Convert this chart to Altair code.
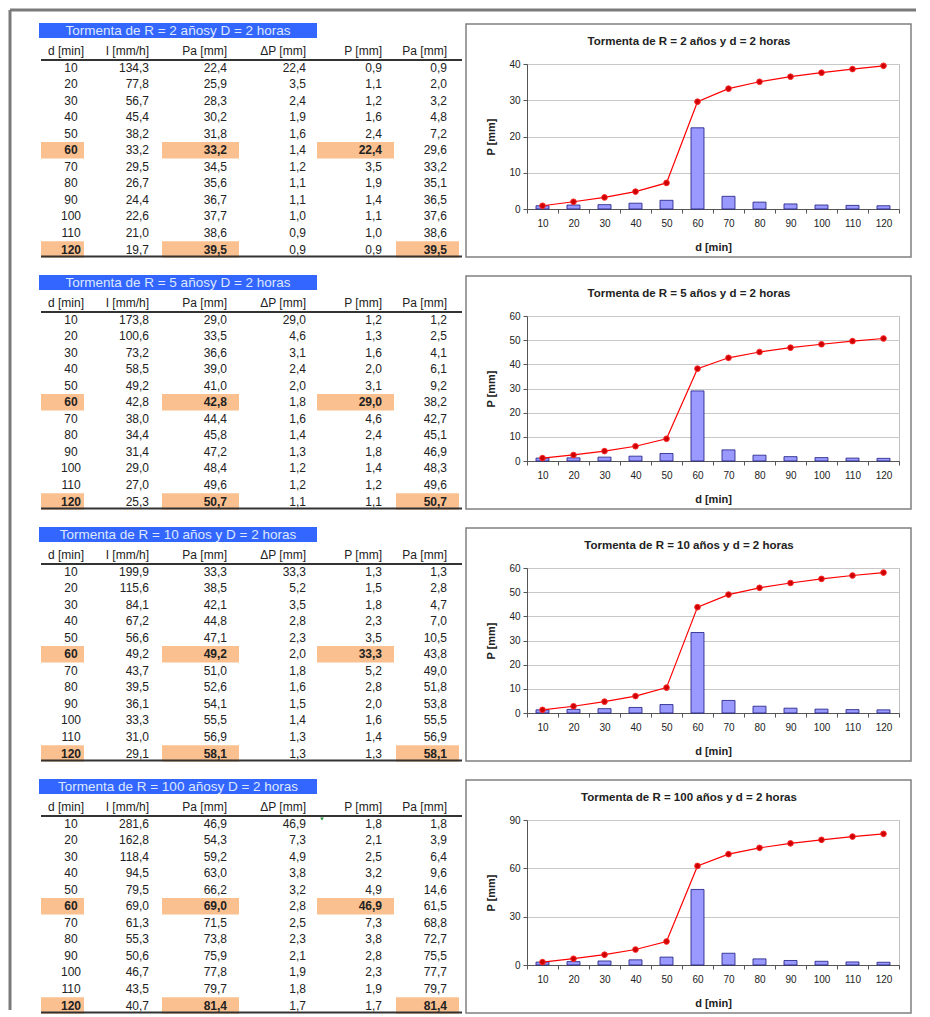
import altair as alt
import pandas as pd

# ---------------- data ----------------
D_MIN = [10, 20, 30, 40, 50, 60, 70, 80, 90, 100, 110, 120]

TABLE_TITLES = [
    "Tormenta de R = 2 añosy D = 2 horas",
    "Tormenta de R = 5 añosy D = 2 horas",
    "Tormenta de R = 10 años y D = 2 horas",
    "Tormenta de R = 100 añosy D = 2 horas",
]
CHART_TITLES = [
    "Tormenta de R = 2 años y d = 2 horas",
    "Tormenta de R = 5 años y d = 2 horas",
    "Tormenta de R = 10 años y d = 2 horas",
    "Tormenta de R = 100 años y d = 2 horas",
]
HEADERS = ["d [min]", "I [mm/h]", "Pa [mm]", "ΔP [mm]", "P [mm]", "Pa [mm]"]

# R = 2 años
I_R2 = [134.3, 77.8, 56.7, 45.4, 38.2, 33.2, 29.5, 26.7, 24.4, 22.6, 21.0, 19.7]
PA_R2 = [22.4, 25.9, 28.3, 30.2, 31.8, 33.2, 34.5, 35.6, 36.7, 37.7, 38.6, 39.5]
DP_R2 = [22.4, 3.5, 2.4, 1.9, 1.6, 1.4, 1.2, 1.1, 1.1, 1.0, 0.9, 0.9]
P_R2 = [0.9, 1.1, 1.2, 1.6, 2.4, 22.4, 3.5, 1.9, 1.4, 1.1, 1.0, 0.9]
PAC_R2 = [0.9, 2.0, 3.2, 4.8, 7.2, 29.6, 33.2, 35.1, 36.5, 37.6, 38.6, 39.5]

# R = 5 años
I_R5 = [173.8, 100.6, 73.2, 58.5, 49.2, 42.8, 38.0, 34.4, 31.4, 29.0, 27.0, 25.3]
PA_R5 = [29.0, 33.5, 36.6, 39.0, 41.0, 42.8, 44.4, 45.8, 47.2, 48.4, 49.6, 50.7]
DP_R5 = [29.0, 4.6, 3.1, 2.4, 2.0, 1.8, 1.6, 1.4, 1.3, 1.2, 1.2, 1.1]
P_R5 = [1.2, 1.3, 1.6, 2.0, 3.1, 29.0, 4.6, 2.4, 1.8, 1.4, 1.2, 1.1]
PAC_R5 = [1.2, 2.5, 4.1, 6.1, 9.2, 38.2, 42.7, 45.1, 46.9, 48.3, 49.6, 50.7]

# R = 10 años
I_R10 = [199.9, 115.6, 84.1, 67.2, 56.6, 49.2, 43.7, 39.5, 36.1, 33.3, 31.0, 29.1]
PA_R10 = [33.3, 38.5, 42.1, 44.8, 47.1, 49.2, 51.0, 52.6, 54.1, 55.5, 56.9, 58.1]
DP_R10 = [33.3, 5.2, 3.5, 2.8, 2.3, 2.0, 1.8, 1.6, 1.5, 1.4, 1.3, 1.3]
P_R10 = [1.3, 1.5, 1.8, 2.3, 3.5, 33.3, 5.2, 2.8, 2.0, 1.6, 1.4, 1.3]
PAC_R10 = [1.3, 2.8, 4.7, 7.0, 10.5, 43.8, 49.0, 51.8, 53.8, 55.5, 56.9, 58.1]

# R = 100 años
I_R100 = [281.6, 162.8, 118.4, 94.5, 79.5, 69.0, 61.3, 55.3, 50.6, 46.7, 43.5, 40.7]
PA_R100 = [46.9, 54.3, 59.2, 63.0, 66.2, 69.0, 71.5, 73.8, 75.9, 77.8, 79.7, 81.4]
DP_R100 = [46.9, 7.3, 4.9, 3.8, 3.2, 2.8, 2.5, 2.3, 2.1, 1.9, 1.8, 1.7]
P_R100 = [1.8, 2.1, 2.5, 3.2, 4.9, 46.9, 7.3, 3.8, 2.8, 2.3, 1.9, 1.7]
PAC_R100 = [1.8, 3.9, 6.4, 9.6, 14.6, 61.5, 68.8, 72.7, 75.5, 77.7, 79.7, 81.4]

STORMS = [
    (I_R2, PA_R2, DP_R2, P_R2, PAC_R2),
    (I_R5, PA_R5, DP_R5, P_R5, PAC_R5),
    (I_R10, PA_R10, DP_R10, P_R10, PAC_R10),
    (I_R100, PA_R100, DP_R100, P_R100, PAC_R100),
]
Y_MAX = [40, 60, 60, 90]
Y_STEP = [10, 10, 10, 30]

# highlighted cells (row index 1..12, column index 0..5)
HIGHLIGHT = [(6, 0), (6, 2), (6, 4), (12, 0), (12, 2), (12, 5)]

# ---------------- layout / style ----------------
FONT = "Liberation Sans"
TABLE_W, PLOT_W, PLOT_H = 423, 372, 145
ROW_GAP, COL_GAP = 107, 65
FRAME_Y = -54
HEADER_X = [45, 110, 188, 267, 343, 408]
VALUE_X = [32, 110, 188, 267, 343, 408]
CELL_X0 = {0: 2, 2: 123, 4: 278, 5: 357}
CELL_X1 = {0: 45, 2: 200, 4: 355, 5: 420}
ORANGE = "#fac08f"
BLUE = "#3366ff"
TXT = "#222222"

ONE = pd.DataFrame({"k": [0]})


def fmt(v):
    return f"{v:.1f}".replace(".", ",")


def table_chart(k, frame=False, marker=False):
    cols = [D_MIN] + list(STORMS[k][:5])
    recs = []
    for r in range(12):
        for c in range(6):
            v = cols[c][r]
            recs.append(dict(row=r + 1, col=c, x=VALUE_X[c],
                             text=str(v) if c == 0 else fmt(v),
                             bold=(r + 1, c) in HIGHLIGHT))
    df = pd.DataFrame(recs)
    hdr = pd.DataFrame({"row": [0] * 6, "x": HEADER_X, "text": HEADERS})
    hl = pd.DataFrame([dict(y0=r - 0.5, y1=r + 0.5, x0=CELL_X0[c], x1=CELL_X1[c])
                       for r, c in HIGHLIGHT])

    xs = alt.Scale(domain=[0, TABLE_W], range=[0, TABLE_W], nice=False, zero=False)
    ys = alt.Scale(domain=[0, 12], range=[-13, 185.5], nice=False, zero=False)

    layers = []
    if frame:
        bottom = 3 * (PLOT_H + ROW_GAP) + 190
        layers.append(alt.Chart(ONE).mark_rule(color="#7a7a7a", strokeWidth=3).encode(
            x=alt.value(-29), x2=alt.value(877), y=alt.value(FRAME_Y)))
        layers.append(alt.Chart(ONE).mark_rule(color="#7a7a7a", strokeWidth=3).encode(
            x=alt.value(-29), y=alt.value(FRAME_Y), y2=alt.value(bottom)))
    layers += [
        alt.Chart(ONE).mark_rect(color=BLUE).encode(
            x=alt.value(0), x2=alt.value(278), y=alt.value(-41), y2=alt.value(-26)),
        alt.Chart(pd.DataFrame({"t": [TABLE_TITLES[k]]})).mark_text(
            font=FONT, fontSize=13.5, color="#dde8ff", baseline="middle").encode(
            text="t:N", x=alt.value(139), y=alt.value(-33)),
        alt.Chart(hl).mark_rect(color=ORANGE).encode(
            x=alt.X("x0:Q", scale=xs, axis=None), x2="x1:Q",
            y=alt.Y("y0:Q", scale=ys, axis=None), y2="y1:Q"),
        alt.Chart(ONE).mark_rule(color="#333333", strokeWidth=2).encode(
            x=alt.value(2), x2=alt.value(TABLE_W), y=alt.value(-4)),
        alt.Chart(ONE).mark_rule(color="#333333", strokeWidth=2).encode(
            x=alt.value(2), x2=alt.value(TABLE_W), y=alt.value(192.5)),
        alt.Chart(hdr).mark_text(font=FONT, fontSize=12, color=TXT, align="right",
                                 baseline="middle").encode(
            x=alt.X("x:Q", scale=xs, axis=None), y=alt.Y("row:Q", scale=ys, axis=None),
            text="text:N"),
    ]
    if marker:
        layers.append(alt.Chart(ONE).mark_point(shape="triangle-down", filled=True,
                                                color="#1e8c3a", size=14, opacity=1).encode(
            x=alt.value(283), y=alt.value(-1)))
    for c0, align in [(True, "center"), (False, "right")]:
        for b in (False, True):
            sub = df[(df.col == 0) == c0]
            sub = sub[sub.bold == b]
            layers.append(alt.Chart(sub).mark_text(
                font=FONT, fontSize=12, color=TXT, align=align, baseline="middle",
                fontWeight="bold" if b else "normal").encode(
                x=alt.X("x:Q", scale=xs, axis=None), y=alt.Y("row:Q", scale=ys, axis=None),
                text="text:N"))
    return alt.layer(*layers).properties(
        width=TABLE_W, height=PLOT_H, view=alt.ViewBackground(strokeWidth=0))


def plot_chart(k):
    _, _, _, p, pac = STORMS[k]
    df = pd.DataFrame({"d": D_MIN, "P": p, "Pa": pac})
    ymax, ystep = Y_MAX[k], Y_STEP[k]
    x = alt.X("d:O", scale=alt.Scale(paddingInner=0, paddingOuter=0),
              axis=alt.Axis(title="d [min]", labelAngle=0, tickBand="extent", tickSize=4,
                            labelPadding=5, titlePadding=13, labelFont=FONT, titleFont=FONT,
                            labelFontSize=10, titleFontSize=11, titleFontWeight="bold",
                            labelColor=TXT, titleColor=TXT, domainColor="#555555",
                            tickColor="#555555", grid=False))
    y_axis = alt.Axis(title="P [mm]", values=list(range(0, ymax + 1, ystep)), tickSize=4,
                      labelPadding=3, titlePadding=12, labelFont=FONT, titleFont=FONT,
                      labelFontSize=10, titleFontSize=11, titleFontWeight="bold",
                      labelColor=TXT, titleColor=TXT, domainColor="#555555",
                      tickColor="#555555", gridColor="#c8c8c8", format="d")
    ys = alt.Scale(domain=[0, ymax], nice=False)
    box = alt.Chart(ONE).mark_rect(fill="transparent", stroke="#808080", strokeWidth=1.5).encode(
        x=alt.value(-61), x2=alt.value(384), y=alt.value(-40), y2=alt.value(193))
    title = alt.Chart(pd.DataFrame({"t": [CHART_TITLES[k]]})).mark_text(
        font=FONT, fontSize=11.5, fontWeight="bold", color=TXT, baseline="middle").encode(
        text="t:N", x=alt.value(162), y=alt.value(-22))
    bars = alt.Chart(df).mark_bar(width=alt.RelativeBandSize(0.42), color="#9999ff",
                                  stroke="#1a1a80", strokeWidth=0.8).encode(
        x=x, y=alt.Y("P:Q", scale=ys, axis=y_axis))
    line = alt.Chart(df).mark_line(color="#ff0000", strokeWidth=1.2).encode(
        x=x, y=alt.Y("Pa:Q", scale=ys, axis=y_axis))
    pts = alt.Chart(df).mark_circle(size=32, color="#cc0000", stroke="#ff2a2a",
                                    strokeWidth=1, opacity=1).encode(
        x=x, y=alt.Y("Pa:Q", scale=ys, axis=y_axis))
    return alt.layer(box, title, bars, line, pts).properties(
        width=PLOT_W, height=PLOT_H,
        view=alt.ViewBackground(stroke="#c0c0c0", strokeWidth=1))


panels = []
for k in range(4):
    panels += [table_chart(k, frame=(k == 0), marker=(k == 3)), plot_chart(k)]

chart = alt.concat(*panels, columns=2, spacing={"row": ROW_GAP, "column": COL_GAP},
                   bounds="flush").properties(padding=0).configure_view(strokeWidth=0)

chart.save("out.html", embed_options={"renderer": "svg", "actions": False})
